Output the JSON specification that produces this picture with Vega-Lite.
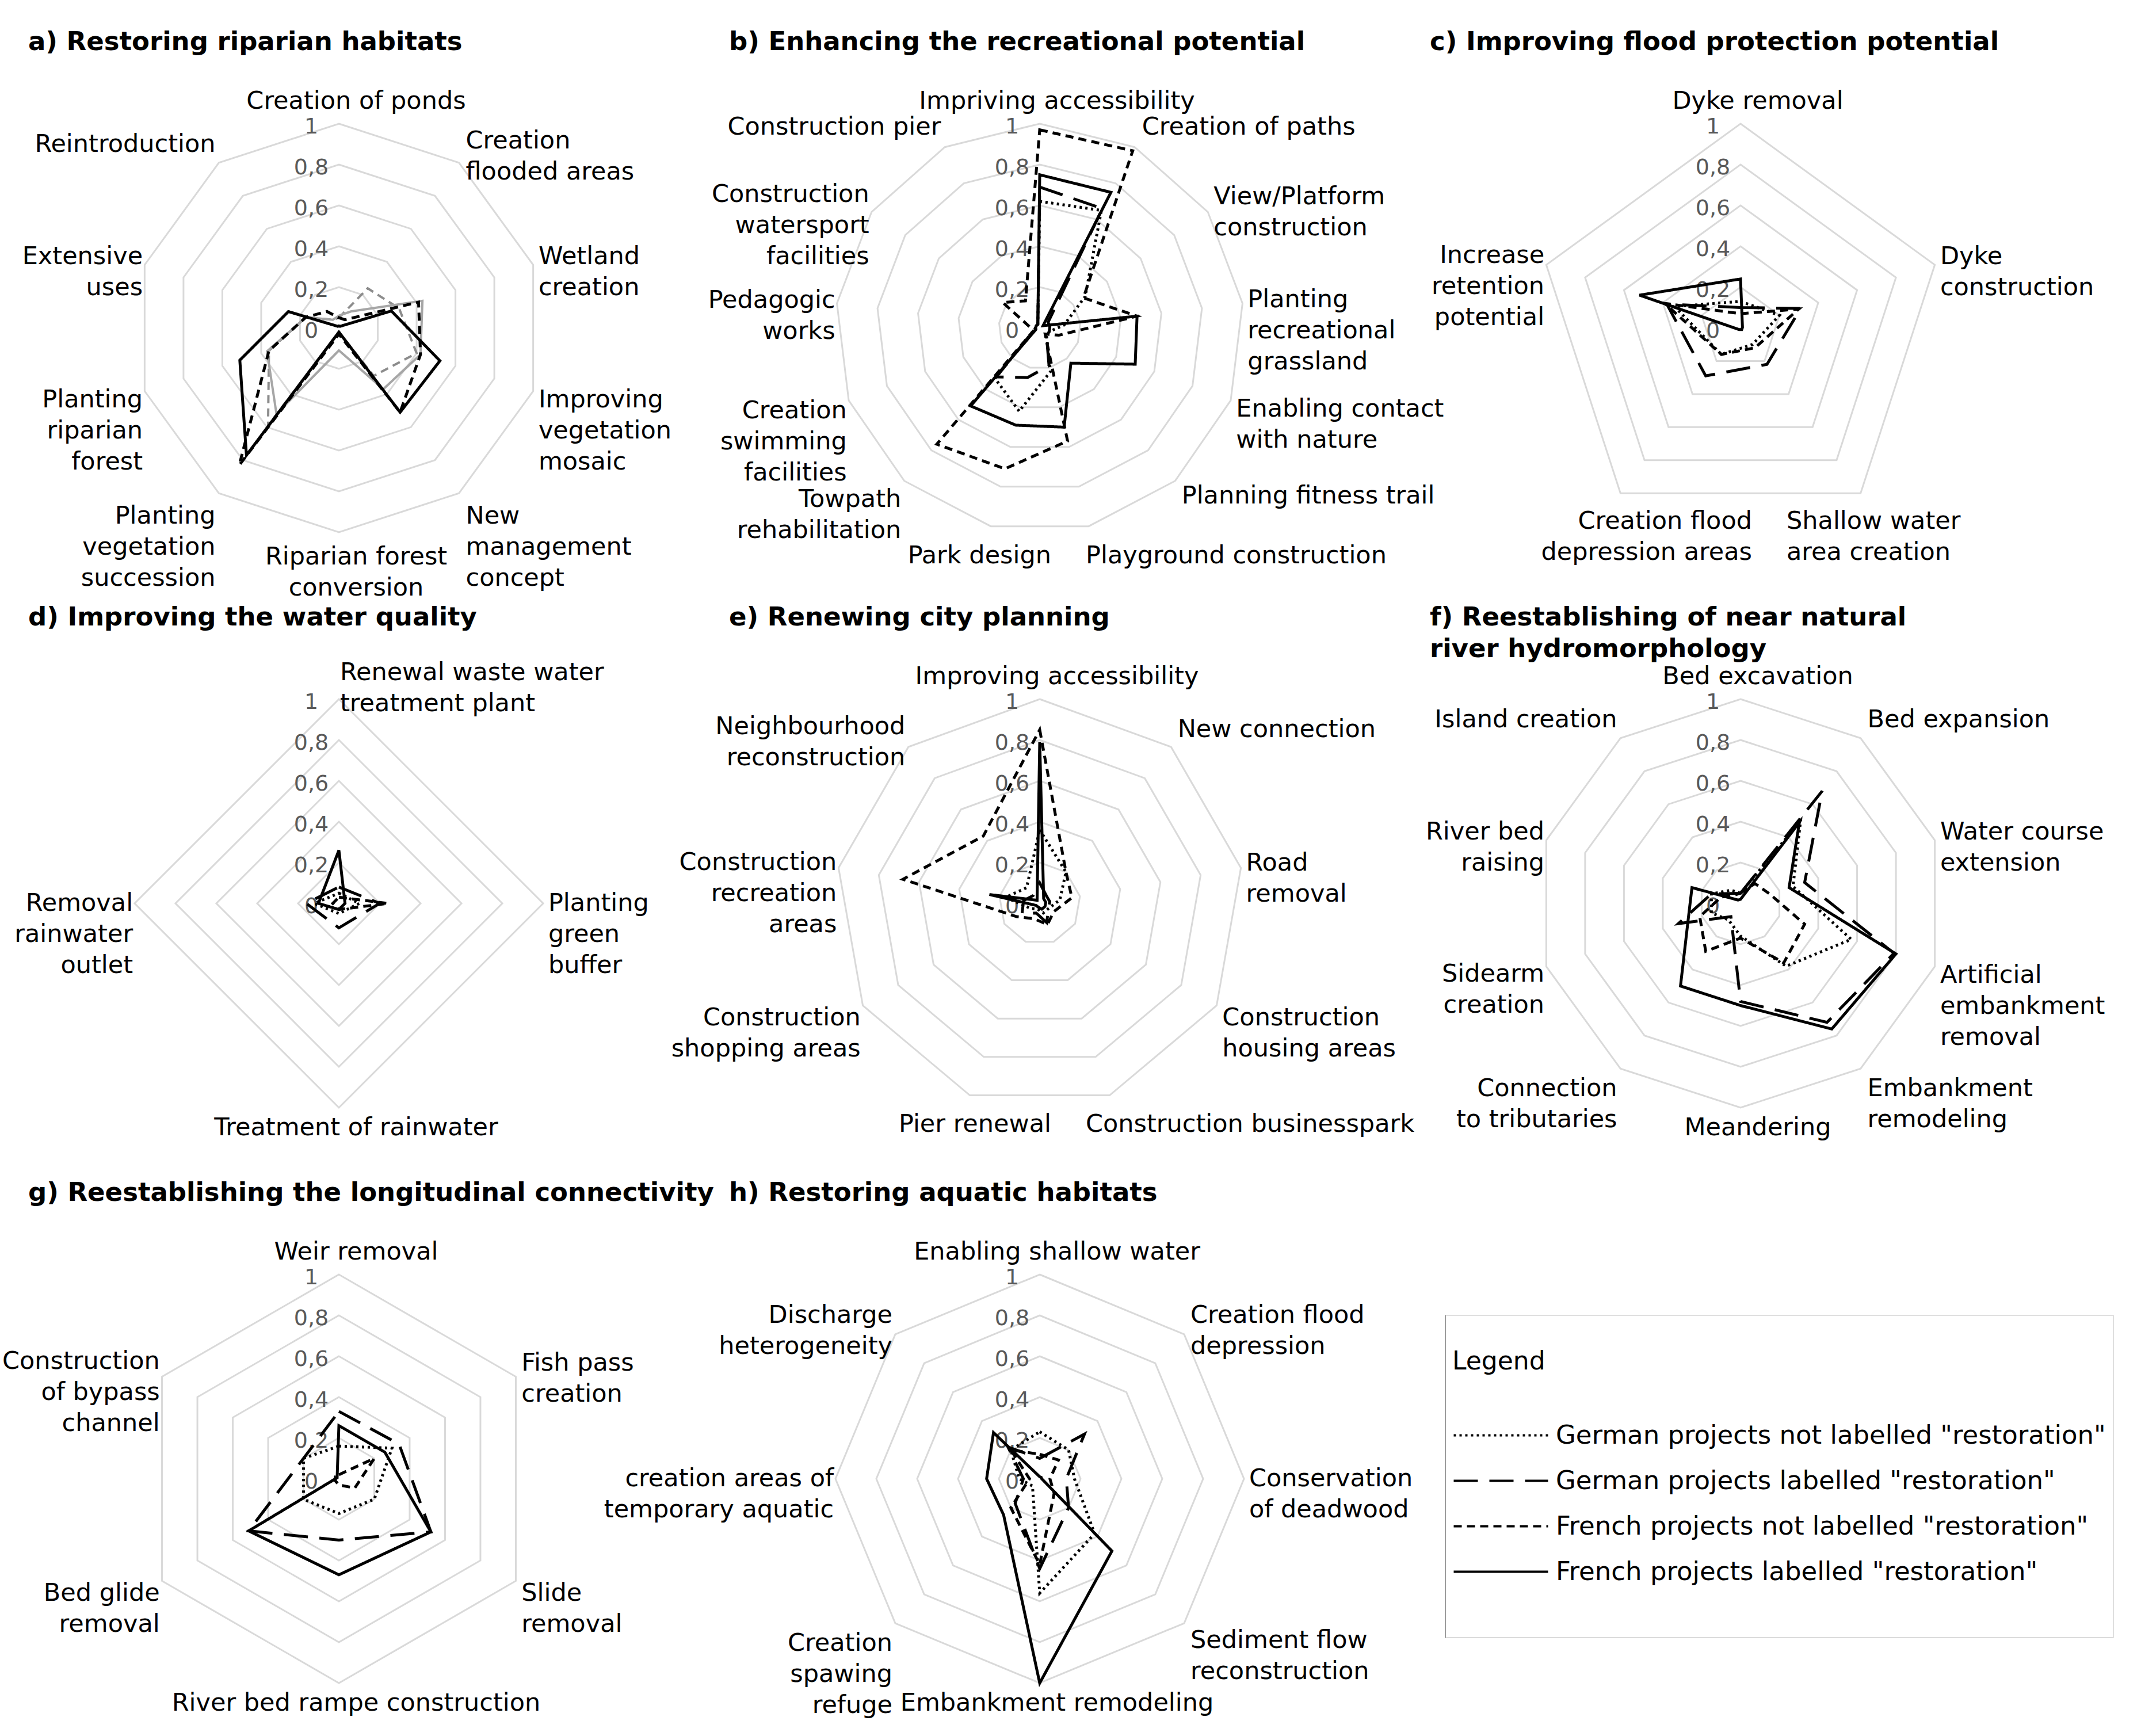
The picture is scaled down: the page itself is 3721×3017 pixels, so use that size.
{
  "$schema": "https://vega.github.io/schema/vega-lite/v6.json",
  "background": "white",
  "padding": {"left": 3, "top": 51, "right": 10, "bottom": 10},
  "config": {"view": {"stroke": null}, "font": "DejaVu Sans"},
  "data": {"values": [
    {"panel":"a","idx":0,"label":"Creation of ponds","GN":0.05,"GL":0.06,"FN":0.05,"FL":0.01},
    {"panel":"a","idx":1,"label":"Creation\nflooded areas","GN":0.24,"GL":0.1,"FN":0.05,"FL":0.01},
    {"panel":"a","idx":2,"label":"Wetland\ncreation","GN":0.31,"GL":0.43,"FN":0.41,"FL":0.27},
    {"panel":"a","idx":3,"label":"Improving\nvegetation\nmosaic","GN":0.4,"GL":0.42,"FN":0.42,"FL":0.52},
    {"panel":"a","idx":4,"label":"New\nmanagement\nconcept","GN":0.29,"GL":0.37,"FN":0.51,"FL":0.51},
    {"panel":"a","idx":5,"label":"Riparian forest\nconversion","GN":0.02,"GL":0.11,"FN":0.03,"FL":0.02},
    {"panel":"a","idx":6,"label":"Planting\nvegetation\nsuccession","GN":0.59,"GL":0.52,"FN":0.83,"FL":0.77},
    {"panel":"a","idx":7,"label":"Planting\nriparian\nforest","GN":0.36,"GL":0.37,"FN":0.36,"FL":0.51},
    {"panel":"a","idx":8,"label":"Extensive\nuses","GN":0.17,"GL":0.17,"FN":0.17,"FL":0.26},
    {"panel":"a","idx":9,"label":"Reintroduction","GN":0.05,"GL":0.05,"FN":0.1,"FL":0.01},

    {"panel":"b","idx":0,"label":"Impriving accessibility","GN":0.62,"GL":0.69,"FN":0.97,"FL":0.75},
    {"panel":"b","idx":1,"label":"Creation of paths","GN":0.65,"GL":0.66,"FN":0.98,"FL":0.75},
    {"panel":"b","idx":2,"label":"View/Platform\nconstruction","GN":0.27,"GL":0.05,"FN":0.26,"FL":0.02},
    {"panel":"b","idx":3,"label":"Planting\nrecreational\ngrassland","GN":0.12,"GL":0.05,"FN":0.48,"FL":0.48},
    {"panel":"b","idx":4,"label":"Enabling contact\nwith nature","GN":0.05,"GL":0.05,"FN":0.1,"FL":0.5},
    {"panel":"b","idx":5,"label":"Planning fitness trail","GN":0.05,"GL":0.05,"FN":0.04,"FL":0.23},
    {"panel":"b","idx":6,"label":"Playground construction","GN":0.22,"GL":0.19,"FN":0.57,"FL":0.5},
    {"panel":"b","idx":7,"label":"Park design","GN":0.42,"GL":0.25,"FN":0.71,"FL":0.49},
    {"panel":"b","idx":8,"label":"Towpath\nrehabilitation","GN":0.33,"GL":0.32,"FN":0.76,"FL":0.51},
    {"panel":"b","idx":9,"label":"Creation\nswimming\nfacilities","GN":0.03,"GL":0.03,"FN":0.03,"FL":0.02},
    {"panel":"b","idx":10,"label":"Pedagogic\nworks","GN":0.02,"GL":0.02,"FN":0.05,"FL":0.02},
    {"panel":"b","idx":11,"label":"Construction\nwatersport\nfacilities","GN":0.02,"GL":0.02,"FN":0.22,"FL":0.02},
    {"panel":"b","idx":12,"label":"Construction pier","GN":0.02,"GL":0.02,"FN":0.15,"FL":0.02},

    {"panel":"c","idx":0,"label":"Dyke removal","GN":0.13,"GL":0.1,"FN":0.07,"FL":0.24},
    {"panel":"c","idx":1,"label":"Dyke\nconstruction","GN":0.2,"GL":0.31,"FN":0.3,"FL":0.01},
    {"panel":"c","idx":2,"label":"Shallow water\narea creation","GN":0.1,"GL":0.22,"FN":0.12,"FL":0.01},
    {"panel":"c","idx":3,"label":"Creation flood\ndepression areas","GN":0.16,"GL":0.29,"FN":0.16,"FL":0.01},
    {"panel":"c","idx":4,"label":"Increase\nretention\npotential","GN":0.34,"GL":0.38,"FN":0.39,"FL":0.52},

    {"panel":"d","idx":0,"label":"Renewal waste water\ntreatment plant","GN":0.05,"GL":0.08,"FN":0.03,"FL":0.26},
    {"panel":"d","idx":1,"label":"Planting\ngreen\nbuffer","GN":0.1,"GL":0.2,"FN":0.24,"FL":0.03},
    {"panel":"d","idx":2,"label":"Treatment of rainwater","GN":0.05,"GL":0.12,"FN":0.03,"FL":0.03},
    {"panel":"d","idx":3,"label":"Removal\nrainwater\noutlet","GN":0.12,"GL":0.16,"FN":0.03,"FL":0.1},

    {"panel":"e","idx":0,"label":"Improving accessibility","GN":0.36,"GL":0.1,"FN":0.85,"FL":0.79},
    {"panel":"e","idx":1,"label":"New connection","GN":0.2,"GL":0.05,"FN":0.2,"FL":0.03},
    {"panel":"e","idx":2,"label":"Road\nremoval","GN":0.1,"GL":0.05,"FN":0.16,"FL":0.03},
    {"panel":"e","idx":3,"label":"Construction\nhousing areas","GN":0.05,"GL":0.05,"FN":0.08,"FL":0.03},
    {"panel":"e","idx":4,"label":"Construction businesspark","GN":0.05,"GL":0.1,"FN":0.11,"FL":0.03},
    {"panel":"e","idx":5,"label":"Pier renewal","GN":0.03,"GL":0.05,"FN":0.08,"FL":0.02},
    {"panel":"e","idx":6,"label":"Construction\nshopping areas","GN":0.05,"GL":0.1,"FN":0.13,"FL":0.02},
    {"panel":"e","idx":7,"label":"Construction\nrecreation\nareas","GN":0.17,"GL":0.08,"FN":0.68,"FL":0.25},
    {"panel":"e","idx":8,"label":"Neighbourhood\nreconstruction","GN":0.1,"GL":0.05,"FN":0.43,"FL":0.02},

    {"panel":"f","idx":0,"label":"Bed excavation","GN":0.05,"GL":0.05,"FN":0.05,"FL":0.02},
    {"panel":"f","idx":1,"label":"Bed expansion","GN":0.5,"GL":0.68,"FN":0.12,"FL":0.49},
    {"panel":"f","idx":2,"label":"Water course\nextension","GN":0.27,"GL":0.33,"FN":0.15,"FL":0.25},
    {"panel":"f","idx":3,"label":"Artificial\nembankment\nremoval","GN":0.57,"GL":0.79,"FN":0.33,"FL":0.8},
    {"panel":"f","idx":4,"label":"Embankment\nremodeling","GN":0.38,"GL":0.72,"FN":0.36,"FL":0.76},
    {"panel":"f","idx":5,"label":"Meandering","GN":0.16,"GL":0.48,"FN":0.17,"FL":0.5},
    {"panel":"f","idx":6,"label":"Connection\nto tributaries","GN":0.1,"GL":0.08,"FN":0.29,"FL":0.5},
    {"panel":"f","idx":7,"label":"Sidearm\ncreation","GN":0.15,"GL":0.32,"FN":0.21,"FL":0.27},
    {"panel":"f","idx":8,"label":"River bed\nraising","GN":0.15,"GL":0.15,"FN":0.1,"FL":0.25},
    {"panel":"f","idx":9,"label":"Island creation","GN":0.08,"GL":0.06,"FN":0.05,"FL":0.02},

    {"panel":"g","idx":0,"label":"Weir removal","GN":0.16,"GL":0.33,"FN":0.02,"FL":0.26},
    {"panel":"g","idx":1,"label":"Fish pass\ncreation","GN":0.3,"GL":0.34,"FN":0.2,"FL":0.26},
    {"panel":"g","idx":2,"label":"Slide\nremoval","GN":0.2,"GL":0.52,"FN":0.09,"FL":0.52},
    {"panel":"g","idx":3,"label":"River bed rampe construction","GN":0.17,"GL":0.3,"FN":0.03,"FL":0.47},
    {"panel":"g","idx":4,"label":"Bed glide\nremoval","GN":0.2,"GL":0.51,"FN":0.02,"FL":0.51},
    {"panel":"g","idx":5,"label":"Construction\nof bypass\nchannel","GN":0.2,"GL":0.2,"FN":0.02,"FL":0.01},

    {"panel":"h","idx":0,"label":"Enabling shallow water","GN":0.23,"GL":0.1,"FN":0.12,"FL":0.01},
    {"panel":"h","idx":1,"label":"Creation flood\ndepression","GN":0.2,"GL":0.31,"FN":0.13,"FL":0.01},
    {"panel":"h","idx":2,"label":"Conservation\nof deadwood","GN":0.17,"GL":0.13,"FN":0.05,"FL":0.01},
    {"panel":"h","idx":3,"label":"Sediment flow\nreconstruction","GN":0.38,"GL":0.2,"FN":0.1,"FL":0.5},
    {"panel":"h","idx":4,"label":"Embankment remodeling","GN":0.56,"GL":0.44,"FN":0.42,"FL":1.0},
    {"panel":"h","idx":5,"label":"Creation\nspawing\nrefuge","GN":0.05,"GL":0.17,"FN":0.2,"FL":0.25},
    {"panel":"h","idx":6,"label":"creation areas of\ntemporary aquatic","GN":0.1,"GL":0.08,"FN":0.05,"FL":0.26},
    {"panel":"h","idx":7,"label":"Discharge\nheterogeneity","GN":0.2,"GL":0.22,"FN":0.2,"FL":0.32}
  ]},
  "columns": 3,
  "spacing": {"row": 140, "column": 138},
  "bounds": "flush",
  "facet": {
    "field": "panel", "type": "nominal", "title": null,
    "header": {
      "labelExpr": "{'a': ['a) Restoring riparian habitats', ''], 'b': ['b) Enhancing the recreational potential', ''], 'c': ['c) Improving flood protection potential', ''], 'd': ['d) Improving the water quality', ''], 'e': ['e) Renewing city planning', ''], 'f': ['f) Reestablishing of near natural', ' river hydromorphology'], 'g': ['g) Reestablishing the longitudinal connectivity', ''], 'h': ['h) Restoring aquatic habitats', '']}[datum.value]",
      "labelFontSize": 45, "labelFontWeight": "bold", "labelColor": "black", "labelFont": "DejaVu Sans",
      "labelAnchor": "start", "labelAlign": "left", "labelBaseline": "top",
      "labelPadding": -11, "labelLineHeight": 55, "labelLimit": 0
    }
  },
  "spec": {
    "width": 1080,
    "height": 860,
    "transform": [
      {"joinaggregate": [{"op": "count", "as": "N"}], "groupby": ["panel"]},
      {"calculate": "2*PI*datum.idx/datum.N", "as": "theta"},
      {"calculate": "sin(datum.theta)", "as": "st"},
      {"calculate": "cos(datum.theta)", "as": "ct"},
      {"joinaggregate": [{"op": "min", "field": "ct", "as": "mct"}], "groupby": ["panel"]},
      {"calculate": "datum.ct <= datum.mct + 0.001 && abs(datum.st) > 0.01", "as": "bp"},
      {"calculate": "length(split(datum.label, '\\n'))", "as": "nl"},
      {"calculate": "0.98*datum.st", "as": "lx"},
      {"calculate": "datum.ct*((datum.ct > 0 ? 1.09 : (datum.bp ? 1.13 : 1.08)) + 0.02*datum.nl)", "as": "ly"}
    ],
    "encoding": {
      "x": {"field": "X", "type": "quantitative", "scale": {"domain": [-1.5211, 1.5211], "nice": false, "zero": false}, "axis": null},
      "y": {"field": "Y", "type": "quantitative", "scale": {"domain": [-1.2113, 1.2113], "nice": false, "zero": false}, "axis": null}
    },
    "layer": [
      {
        "transform": [
          {"calculate": "[0.2, 0.4, 0.6, 0.8, 1]", "as": "ring"},
          {"flatten": ["ring"]},
          {"calculate": "datum.ring*datum.st", "as": "X"},
          {"calculate": "datum.ring*datum.ct", "as": "Y"}
        ],
        "mark": {"type": "line", "interpolate": "linear-closed", "color": "#d9d9d9", "strokeWidth": 3},
        "encoding": {
          "detail": {"field": "ring", "type": "nominal"},
          "order": {"field": "idx", "type": "quantitative"}
        }
      },
      {
        "transform": [
          {"filter": "datum.idx == 0"},
          {"calculate": "[0, 0.2, 0.4, 0.6, 0.8, 1]", "as": "ring"},
          {"flatten": ["ring"]},
          {"calculate": "0", "as": "X"},
          {"calculate": "datum.ring", "as": "Y"},
          {"calculate": "replace(toString(datum.ring), '.', ',')", "as": "rlab"}
        ],
        "mark": {"type": "text", "align": "center", "baseline": "middle", "dx": -48, "dy": 6, "fontSize": 38, "color": "#595959"},
        "encoding": {"text": {"field": "rlab", "type": "nominal"}}
      },
      {
        "transform": [
          {"filter": "datum.panel == 'a'"},
          {"calculate": "datum.GN*datum.st", "as": "X"},
          {"calculate": "datum.GN*datum.ct", "as": "Y"}
        ],
        "mark": {"type": "line", "interpolate": "linear-closed", "color": "#8c8c8c", "strokeWidth": 4, "strokeDash": [14, 9]},
        "encoding": {"order": {"field": "idx", "type": "quantitative"}}
      },
      {
        "transform": [
          {"filter": "datum.panel == 'a'"},
          {"calculate": "datum.GL*datum.st", "as": "X"},
          {"calculate": "datum.GL*datum.ct", "as": "Y"}
        ],
        "mark": {"type": "line", "interpolate": "linear-closed", "color": "#a6a6a6", "strokeWidth": 4},
        "encoding": {"order": {"field": "idx", "type": "quantitative"}}
      },
      {
        "transform": [
          {"fold": ["GN", "GL", "FN", "FL"], "as": ["series", "value"]},
          {"filter": "!(datum.panel == 'a' && (datum.series == 'GN' || datum.series == 'GL'))"},
          {"calculate": "datum.value*datum.st", "as": "X"},
          {"calculate": "datum.value*datum.ct", "as": "Y"}
        ],
        "mark": {"type": "line", "interpolate": "linear-closed", "color": "black", "strokeWidth": 5},
        "encoding": {
          "order": {"field": "idx", "type": "quantitative"},
          "strokeDash": {
            "field": "series", "type": "nominal",
            "scale": {"domain": ["GN", "GL", "FN", "FL", "Z"], "range": [[4, 6], [42, 20], [14, 9], [1, 0], [0, 100000]]},
            "legend": {
              "title": ["", "Legend"],
              "orient": "none", "legendX": 2463, "legendY": 2145,
              "direction": "vertical",
              "labelExpr": "{'GN': 'German projects not labelled \"restoration\"', 'GL': 'German projects labelled \"restoration\"', 'FN': 'French projects not labelled \"restoration\"', 'FL': 'French projects labelled \"restoration\"', 'Z': ''}[datum.value]",
              "titleFontSize": 44, "titleFontWeight": "normal", "titleColor": "black", "titleFont": "DejaVu Sans", "titlePadding": 83, "titleLineHeight": 48,
              "labelFontSize": 45, "labelColor": "black", "labelFont": "DejaVu Sans", "labelLimit": 2000,
              "symbolType": "M-1,0H7.2", "symbolSize": 1600, "symbolStrokeWidth": 4, "symbolStrokeColor": "black",
              "labelOffset": 135, "rowPadding": 33, "padding": 12,
              "strokeColor": "#7f7f7f", "fillColor": "white"
            }
          }
        }
      },
      {
        "transform": [
          {"filter": "datum.st > 0.2 && !datum.bp"},
          {"calculate": "datum.lx", "as": "X"},
          {"calculate": "datum.ly", "as": "Y"}
        ],
        "mark": {"type": "text", "align": "left", "baseline": "middle", "dx": 16, "lineBreak": "\n", "fontSize": 43, "lineHeight": 54, "color": "black"},
        "encoding": {"text": {"field": "label", "type": "nominal"}}
      },
      {
        "transform": [
          {"filter": "datum.st < -0.2 && !datum.bp"},
          {"calculate": "datum.lx", "as": "X"},
          {"calculate": "datum.ly", "as": "Y"}
        ],
        "mark": {"type": "text", "align": "right", "baseline": "middle", "dx": -10, "lineBreak": "\n", "fontSize": 43, "lineHeight": 54, "color": "black"},
        "encoding": {"text": {"field": "label", "type": "nominal"}}
      },
      {
        "transform": [
          {"filter": "abs(datum.st) <= 0.2 && !datum.bp && !(datum.nl >= 2 && datum.ct > 0)"},
          {"calculate": "datum.lx", "as": "X"},
          {"calculate": "datum.ly", "as": "Y"}
        ],
        "mark": {"type": "text", "align": "center", "baseline": "middle", "dx": 30, "lineBreak": "\n", "fontSize": 43, "lineHeight": 54, "color": "black"},
        "encoding": {"text": {"field": "label", "type": "nominal"}}
      },
      {
        "transform": [
          {"filter": "abs(datum.st) <= 0.2 && datum.nl >= 2 && datum.ct > 0"},
          {"calculate": "0", "as": "X"},
          {"calculate": "datum.ly", "as": "Y"}
        ],
        "mark": {"type": "text", "align": "left", "baseline": "middle", "dx": 2, "lineBreak": "\n", "fontSize": 43, "lineHeight": 54, "color": "black"},
        "encoding": {"text": {"field": "label", "type": "nominal"}}
      },
      {
        "transform": [
          {"filter": "datum.bp && datum.st < 0"},
          {"calculate": "0", "as": "X"},
          {"calculate": "datum.ly", "as": "Y"}
        ],
        "mark": {"type": "text", "align": "right", "baseline": "middle", "dx": 20, "lineBreak": "\n", "fontSize": 43, "lineHeight": 54, "color": "black"},
        "encoding": {"text": {"field": "label", "type": "nominal"}}
      },
      {
        "transform": [
          {"filter": "datum.bp && datum.st > 0"},
          {"calculate": "0", "as": "X"},
          {"calculate": "datum.ly", "as": "Y"}
        ],
        "mark": {"type": "text", "align": "left", "baseline": "middle", "dx": 80, "lineBreak": "\n", "fontSize": 43, "lineHeight": 54, "color": "black"},
        "encoding": {"text": {"field": "label", "type": "nominal"}}
      }
    ]
  }
}
